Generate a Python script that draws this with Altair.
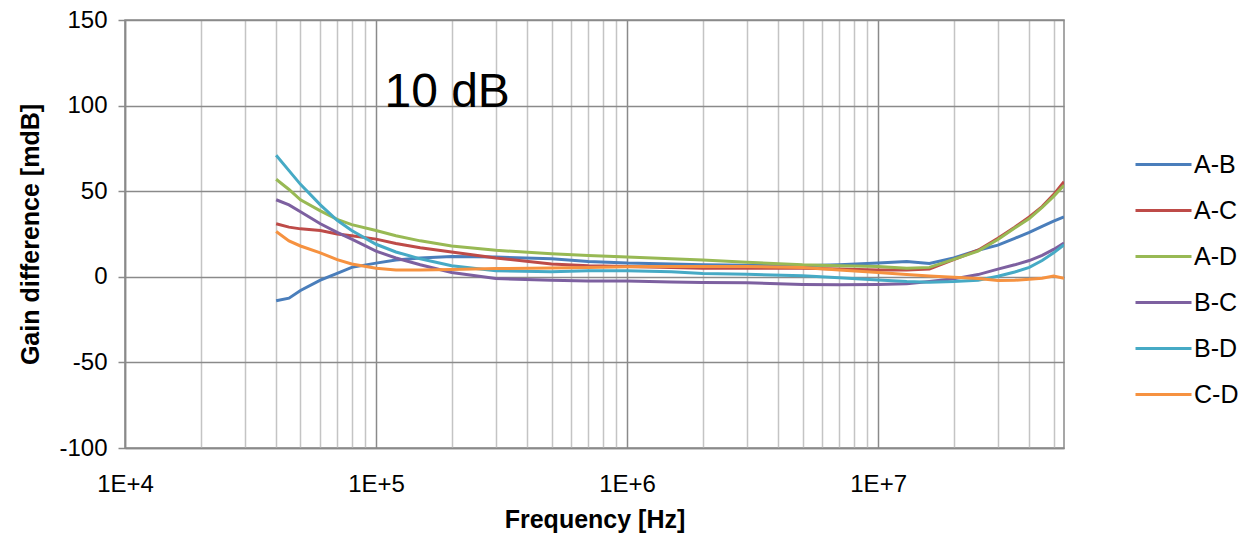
import altair as alt
import pandas as pd

freq = [4e4, 4.5e4, 5e4, 6e4, 7e4, 8e4, 1e5, 1.2e5, 1.5e5, 2e5, 3e5, 5e5, 7e5,
        1e6, 1.5e6, 2e6, 3e6, 5e6, 7e6, 1e7, 1.3e7, 1.6e7, 2e7, 2.5e7, 3e7,
        3.5e7, 4e7, 4.5e7, 5e7, 5.5e7]

ab = [-14, -12.5, -8, -2, 2, 5.5, 8, 9.8, 11, 11.8, 11.5, 10.5, 9,
      8, 7.5, 7, 6.8, 6.4, 7, 8, 9, 7.8, 11, 15.5, 18.5,
      22.5, 26, 29.5, 32.5, 35]
ac = [31, 29, 28, 27, 25, 24, 22, 19.5, 17, 14.5, 11, 7.5, 6.5,
      6, 5.5, 5, 5, 5, 4.5, 4, 4, 4.5, 10, 15.5, 22.5,
      29, 35, 41, 48, 55.5]
ad = [57, 51, 45, 38.5, 33.5, 30.5, 27, 24, 21, 18, 15.5, 13.5, 12.5,
      11.5, 10.5, 9.8, 8.5, 7, 6.5, 6, 5, 5.5, 10.2, 15, 21.8,
      28.5, 34, 40.5, 47, 53.5]
bc = [45, 42, 38, 31, 26, 22, 15, 11, 7, 2.5, -1, -2, -2.5,
      -2.5, -3, -3.3, -3.5, -4.5, -4.7, -4.5, -4, -2.8, -1.2, 1.3, 4.5,
      7, 9.5, 12.5, 16, 19.7]
bd = [71, 62, 54, 42, 33, 27, 19, 14.5, 10.5, 6.5, 3.5, 3, 3.5,
      3.5, 3, 2, 1.5, 0.6, -0.5, -1.8, -2.8, -3.2, -2.8, -2, 0.3,
      2.8, 5.5, 9.5, 14, 18.7]
cd = [26.5, 21, 18, 14, 10, 7.5, 5, 4, 4, 4.3, 4.8, 5.2, 5.5,
      5.8, 6, 6, 6, 5.4, 4, 2.5, 1.3, 0.5, -0.3, -1, -2.2,
      -2, -1.5, -0.8, 0.5, -0.8]

series_names = ["A-B", "A-C", "A-D", "B-C", "B-D", "C-D"]
series_values = [ab, ac, ad, bc, bd, cd]
colors = ["#4A7EBB", "#BE4B48", "#98B954", "#7D60A0", "#46AAC5", "#F69240"]

x_ticks = [m * 10 ** e for e in range(4, 8) for m in range(1, 10)
           if m * 10 ** e <= 5.5e7]
y_ticks = [-100, -50, 0, 50, 100, 150]

rows = []
for name, vals in zip(series_names, series_values):
    for f, v in zip(freq, vals):
        rows.append({"freq": f, "value": v, "series": name})
df = pd.DataFrame(rows)

annot = pd.DataFrame({"freq": [1.08e5], "value": [99], "label": ["10 dB"]})

decade_test = "abs(log(datum.value)/LN10 - round(log(datum.value)/LN10)) < 1e-6"

x_scale = alt.Scale(type="log", domain=[1e4, 5.5e7], nice=False)
y_scale = alt.Scale(domain=[-100, 150], nice=False)

lines = alt.Chart(df).mark_line(strokeWidth=3, clip=True).encode(
    x=alt.X("freq:Q", scale=x_scale,
            axis=alt.Axis(title="Frequency [Hz]", values=x_ticks,
                          labelExpr=f"({decade_test}) ? '1E+' + format(round(log(datum.value)/LN10), 'd') : ''",
                          grid=True,
                          gridColor={"condition": {"test": decade_test, "value": "#8a8a8a"}, "value": "#c4c4c4"},
                          gridWidth=1.5,
                          ticks=False, domainColor="#8a8a8a", domainWidth=1.5,
                          labelFontSize=24, labelColor="#000000", labelPadding=24,
                          labelFlush=False, labelOverlap=False,
                          titleFontSize=25, titleFontWeight="bold", titleColor="#000000",
                          titlePadding=11)),
    y=alt.Y("value:Q", scale=y_scale,
            axis=alt.Axis(title="Gain difference [mdB]", values=y_ticks,
                          labelExpr="'' + datum.value",
                          grid=True, gridColor="#8a8a8a", gridWidth=1.5,
                          ticks=True, tickSize=7, tickColor="#8a8a8a", tickWidth=1.5,
                          domainColor="#8a8a8a", domainWidth=1.5,
                          labelFontSize=24, labelColor="#000000", labelPadding=11,
                          titleFontSize=25, titleFontWeight="bold", titleColor="#000000",
                          titlePadding=15)),
    color=alt.Color("series:N",
                    scale=alt.Scale(domain=series_names, range=colors),
                    legend=alt.Legend(title=None, orient="none", legendX=1017, legendY=123,
                                      symbolType="M-1.4,0H1.4", symbolSize=1600,
                                      symbolStrokeWidth=3, labelFontSize=25,
                                      labelColor="#000000", labelOffset=9,
                                      rowPadding=11, padding=0)),
    order=alt.Order("freq:Q"),
)

text = alt.Chart(annot).mark_text(fontSize=48, align="left", baseline="alphabetic",
                                  color="#000000", font="Liberation Sans").encode(
    x=alt.X("freq:Q", scale=x_scale),
    y=alt.Y("value:Q", scale=y_scale),
    text="label:N",
)

chart = alt.layer(lines, text).properties(
    width=939, height=428,
    autosize=alt.AutoSizeParams(type="none"),
    padding={"left": 117, "top": 12, "right": 182, "bottom": 86},
).configure(font="Liberation Sans").configure_view(stroke="#8a8a8a", strokeWidth=1.5)

chart.save("out.html", embed_options={"renderer": "svg", "actions": False})
